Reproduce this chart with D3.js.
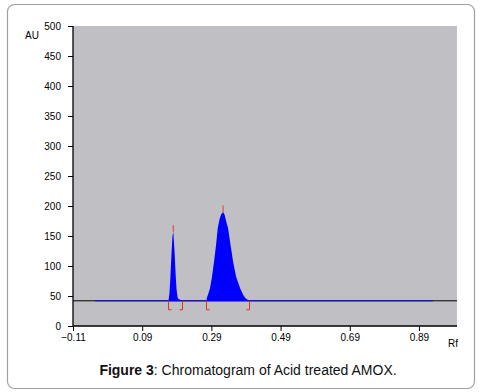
<!DOCTYPE html>
<html><head><meta charset="utf-8">
<script src="https://cdn.jsdelivr.net/npm/d3@7"></script>
<style>body{margin:0;background:#fff}svg{display:block;font-family:"Liberation Sans",Arial,sans-serif}</style>
</head><body><svg id="c" width="481" height="392"></svg>
<script>
// Data
const yTicks = [0,50,100,150,200,250,300,350,400,450,500];
const xTicks = [-0.11,0.09,0.29,0.49,0.69,0.89];
const baselineAU = 42;
const peak1Rf = [0.166,0.1689,0.1718,0.1747,0.1776,0.1799,0.1834,0.1863,0.1892,0.1921,0.195,0.2024,0.205];
const peak1AU = [42,55,85,120,150,157,125,90,62,48,45,43,42];
const peak2Rf = [0.2758,0.2773,0.2802,0.286,0.2918,0.2976,0.3035,0.3084,0.3136,0.318,0.3238,0.3281,0.3325,0.3383,0.3441,0.3528,0.3615,0.3731,0.3818,0.3876,0.3934,0.4001];
const peak2AU = [42,48,52,63,82,107,135,163,178,186,190,186,175,163,140,107,82,63,52,47,44,42];
const peakTopRf = [0.1799,0.3238];
const peakTopAU = [157,190];
const peakStartRf = [0.166,0.2758];
const peakEndRf = [0.205,0.4001];
const blueBaseRange = [-0.046,0.93];

const svg = d3.select("#c");
svg.append("rect").attr("x",7.5).attr("y",4.5).attr("width",467).attr("height",384)
  .attr("rx",7).attr("fill","#fff").attr("stroke","#a0a0a0").attr("stroke-width",1.2);

const x = d3.scaleLinear().domain([-0.11,1.0]).range([73,457]);
const y = d3.scaleLinear().domain([0,500]).range([326,26]);

svg.append("rect").attr("x",x(-0.11)).attr("y",y(500)).attr("width",x(1.0)-x(-0.11)).attr("height",y(0)-y(500)).attr("fill","#c0bfc4");

// baseline
svg.append("line").attr("x1",x(-0.11)).attr("x2",x(1.0)).attr("y1",y(baselineAU)).attr("y2",y(baselineAU)).attr("stroke","#000").attr("stroke-width",1);
svg.append("line").attr("x1",x(blueBaseRange[0])).attr("x2",x(blueBaseRange[1])).attr("y1",y(baselineAU)).attr("y2",y(baselineAU)).attr("stroke","#1010c0").attr("stroke-width",1);

const area = d3.area().x(d=>x(d[0])).y0(y(baselineAU)).y1(d=>y(d[1]));
[[peak1Rf,peak1AU],[peak2Rf,peak2AU]].forEach(([r,a])=>{
  svg.append("path").datum(r.map((v,i)=>[v,a[i]])).attr("d",area).attr("fill","#0000ff");
});

// peak tip markers
peakTopRf.forEach((r,i)=>{
  svg.append("line").attr("x1",x(r)).attr("x2",x(r)).attr("y1",y(peakTopAU[i])).attr("y2",y(peakTopAU[i]+11)).attr("stroke","#e04030").attr("stroke-width",1);
});
// brackets
const bb = y(baselineAU), bt = y(baselineAU-15);
peakStartRf.forEach((r,i)=>{
  const xs = Math.round(x(r))+0.5, xe = Math.round(x(peakEndRf[i]))+0.5;
  svg.append("path").attr("d",`M${xs+3},${bt}H${xs}V${bb}`).attr("fill","none").attr("stroke","#e03020").attr("stroke-width",1);
  svg.append("path").attr("d",`M${xe-3},${bt}H${xe}V${bb}`).attr("fill","none").attr("stroke","#e03020").attr("stroke-width",1);
});

// axes
const yAxis = svg.append("g").attr("transform",`translate(${x(-0.11)},0)`)
  .call(d3.axisLeft(y).tickValues(yTicks).tickSize(5).tickPadding(7).tickFormat(d3.format("d")));
const xAxis = svg.append("g").attr("transform",`translate(0,${y(0)})`)
  .call(d3.axisBottom(x).tickValues(xTicks).tickSize(5).tickPadding(3).tickFormat(d3.format(".2f")));
[yAxis,xAxis].forEach(g=>{
  g.select(".domain").attr("stroke","#000").attr("stroke-width",1.3);
  g.selectAll(".tick line").attr("stroke","#000");
  g.selectAll("text").attr("font-size",10).attr("fill","#000").attr("font-family","Liberation Sans, Arial, sans-serif");
});
xAxis.select(".domain").attr("d",`M${x(-0.11)},0H${x(1.0)}`);
yAxis.select(".domain").attr("d",`M0,${y(0)}V${y(500)}`);

svg.append("text").attr("x",25).attr("y",39).attr("font-size",10).text("AU");
svg.append("text").attr("x",448).attr("y",347).attr("font-size",10).text("Rf");

const cap = svg.append("text").attr("x",248).attr("y",375).attr("text-anchor","middle").attr("font-size",14).attr("fill","#111");
cap.append("tspan").attr("font-weight","bold").text("Figure 3");
cap.append("tspan").text(": Chromatogram of Acid treated AMOX.");
</script></body></html>
